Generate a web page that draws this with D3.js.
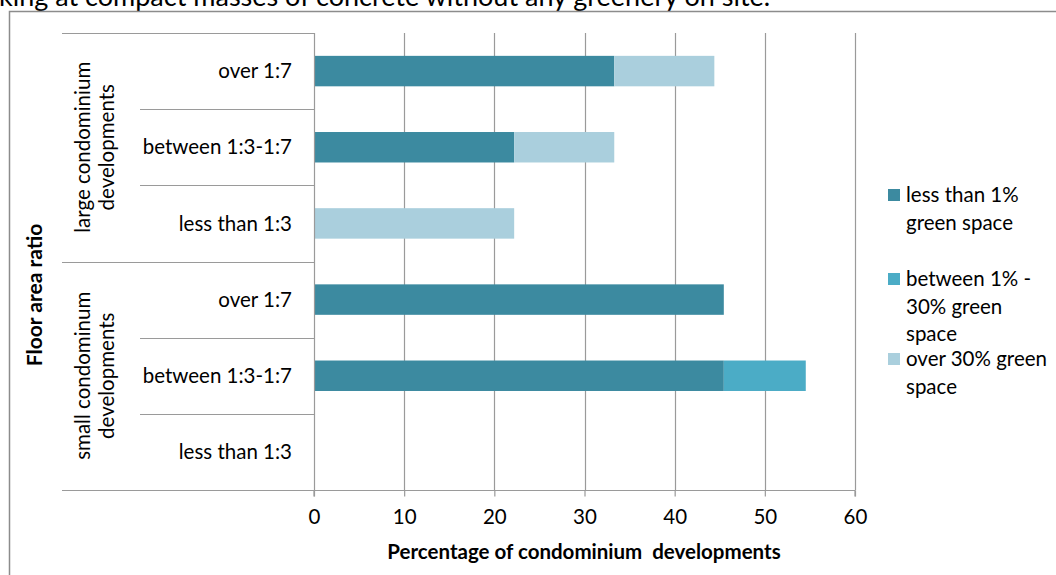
<!DOCTYPE html>
<html>
<head>
<meta charset="utf-8">
<script src="https://cdn.jsdelivr.net/npm/d3@7"></script>
<style>
  html, body { margin: 0; padding: 0; background: #fff; }
  svg { display: block; font-family: Lato, "Open Sans", sans-serif; }
</style>
</head>
<body>
<svg id="chart" width="1056" height="575"></svg>
<script>
// Floor-area-ratio classes, top to bottom within each development group
const groups = ["large condominium developments", "small condominum developments"];
const groupLines = [["large condominium", "developments"], ["small condominum", "developments"]];
const ratioClasses = ["over 1:7", "between 1:3-1:7", "less than 1:3"];

// Share of developments (%) per green-space class, rows in display order
const lessThan1 = [33.3, 22.2, 0, 45.45, 45.45, 0];
const between1and30 = [0, 0, 0, 0, 9.09, 0];
const over30 = [11.1, 11.1, 22.2, 0, 0, 0];

const seriesNames = ["less than 1% green space", "between 1% - 30% green space", "over 30% green space"];
const seriesColors = ["#3c8aa0", "#4bacc6", "#aacfdd"];
const legendLines = [["less than 1%", "green space"], ["between 1% -", "30% green", "space"], ["over 30% green", "space"]];
const xTicks = [0, 10, 20, 30, 40, 50, 60];

const rows = [];
groups.forEach((g, gi) => ratioClasses.forEach((r, ri) => rows.push({ group: g, ratio: r, key: gi + "|" + r })));
const table = rows.map((d, i) => ({ key: d.key, s0: lessThan1[i], s1: between1and30[i], s2: over30[i] }));
const stacked = d3.stack().keys(["s0", "s1", "s2"])(table);

const svg = d3.select("#chart");
const plotLeft = 314, plotRight = 855, plotTop = 33, plotBottom = 490;
const fs = 20.5;

const x = d3.scaleLinear().domain([0, 60]).range([plotLeft, plotRight]);
const y = d3.scaleBand().domain(rows.map(d => d.key)).range([plotTop, plotBottom]).paddingInner(0.6).paddingOuter(0.3);
const rowStep = (plotBottom - plotTop) / rows.length;

// Caption line above the chart frame, running off the top edge
svg.append("text").attr("x", -1).attr("y", 6)
  .attr("font-size", 27).attr("fill", "#000")
  .text("king at compact masses of concrete without any greenery on site.");

// Chart frame
svg.append("rect").attr("x", 9.5).attr("y", 11.5).attr("width", 1060).attr("height", 600)
  .attr("fill", "none").attr("stroke", "#8c8c8c").attr("stroke-width", 1.5);

// Vertical gridlines
svg.append("g").selectAll("line").data(xTicks.slice(1)).join("line")
  .attr("x1", d => Math.round(x(d)) + 0.5).attr("x2", d => Math.round(x(d)) + 0.5)
  .attr("y1", plotTop).attr("y2", plotBottom)
  .attr("stroke", "#9a9a9a").attr("stroke-width", 1.2);

// Bars
svg.append("g").selectAll("g").data(stacked).join("g")
  .attr("fill", (d, i) => seriesColors[i])
  .selectAll("rect").data(d => d.filter(p => p[1] - p[0] > 0)).join("rect")
  .attr("x", d => x(d[0])).attr("width", d => x(d[1]) - x(d[0]))
  .attr("y", d => y(d.data.key)).attr("height", y.bandwidth());

// X axis
const xAxis = svg.append("g").attr("transform", `translate(0,${plotBottom + 0.5})`)
  .call(d3.axisBottom(x).tickValues(xTicks).tickSize(6).tickPadding(13));
xAxis.select(".domain").attr("stroke", "#9a9a9a").attr("stroke-width", 1.2)
  .attr("d", `M${plotLeft},6V0H${plotRight}V6`);
xAxis.selectAll(".tick line").attr("stroke", "#9a9a9a").attr("stroke-width", 1.2);
xAxis.selectAll(".tick text").attr("font-size", fs).attr("fill", "#000")
  .attr("font-family", "Lato, 'Open Sans', sans-serif");

// Y axis line
svg.append("line").attr("x1", plotLeft + 0.5).attr("x2", plotLeft + 0.5).attr("y1", plotTop).attr("y2", plotBottom)
  .attr("stroke", "#9a9a9a").attr("stroke-width", 1.2);

// Category separators: inner lines within each group, full lines between groups
const sep = svg.append("g").attr("stroke", "#9a9a9a").attr("stroke-width", 1.2);
d3.range(rows.length + 1).forEach(i => {
  const yy = Math.round(plotTop + i * rowStep) + 0.5;
  const full = i % ratioClasses.length === 0;
  sep.append("line").attr("x1", full ? 62 : 140).attr("x2", plotLeft).attr("y1", yy).attr("y2", yy);
});

// Ratio labels
svg.append("g").selectAll("text").data(rows).join("text")
  .attr("x", 292).attr("y", d => y(d.key) + y.bandwidth() / 2)
  .attr("dy", "0.35em").attr("text-anchor", "end")
  .attr("font-size", fs).attr("fill", "#000")
  .text(d => d.ratio);

// Group labels (rotated, two lines)
groupLines.forEach((lines, gi) => {
  const cy = plotTop + (gi * 3 + 1.5) * rowStep;
  const t = svg.append("text")
    .attr("transform", `translate(95,${cy}) rotate(-90)`)
    .attr("text-anchor", "middle").attr("font-size", fs).attr("fill", "#000");
  lines.forEach((ln, li) => t.append("tspan").attr("x", 0)
    .attr("y", (li - (lines.length - 1) / 2) * 24 + 7).text(ln));
});

// Axis titles
svg.append("text").attr("transform", "translate(42,295) rotate(-90)")
  .attr("text-anchor", "middle").attr("font-size", 21).attr("font-weight", "bold").attr("fill", "#000")
  .text("Floor area ratio");
svg.append("text").attr("x", 584).attr("y", 559)
  .attr("text-anchor", "middle").attr("font-size", 20.5).attr("font-weight", "bold").attr("fill", "#000")
  .style("white-space", "pre")
  .text("Percentage of condominium  developments");

// Legend
const legendTops = [189, 273, 353];
const legend = svg.append("g");
seriesNames.forEach((name, i) => {
  const g = legend.append("g");
  g.append("rect").attr("x", 888).attr("y", legendTops[i]).attr("width", 12).attr("height", 12)
    .attr("fill", seriesColors[i]);
  const t = g.append("text").attr("font-size", fs).attr("fill", "#000");
  legendLines[i].forEach((ln, li) => t.append("tspan").attr("x", 906)
    .attr("y", legendTops[i] + 13 + li * 27.5).text(ln));
});
</script>
</body>
</html>
